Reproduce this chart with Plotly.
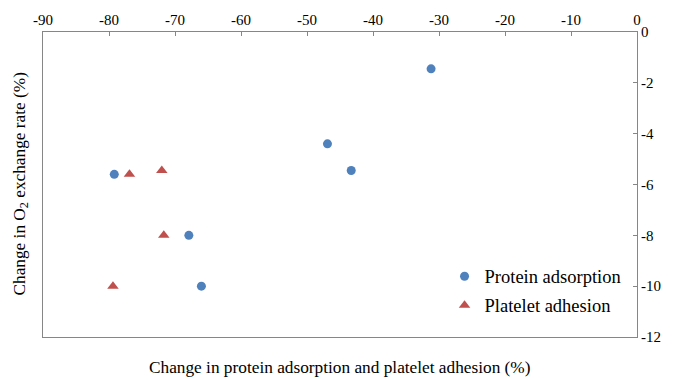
import plotly.graph_objects as go

protein_x = [-31.2, -46.9, -43.3, -79.2, -67.9, -66.0]
protein_y = [-1.45, -4.4, -5.45, -5.6, -8.0, -10.0]
platelet_x = [-76.9, -72.0, -71.7, -79.4]
platelet_y = [-5.6, -5.45, -8.0, -10.0]

x_ticks = [-90, -80, -70, -60, -50, -40, -30, -20, -10, 0]
x_ticklabels = ["-90", "-80", "-70", "-60", "-50", "-40", "-30", "-20", "-10", "0"]
y_ticks = [0, -2, -4, -6, -8, -10, -12]
y_ticklabels = ["0", "-2", "-4", "-6", "-8", "-10", "-12"]

FONT = "Times New Roman, Liberation Serif, DejaVu Serif, serif"

fig = go.Figure()
fig.add_trace(go.Scatter(x=protein_x, y=protein_y, mode="markers", name="Protein adsorption",
                         legendgroup="a",
                         marker=dict(symbol="circle", size=9, color="#4f81bd")))
fig.add_trace(go.Scatter(x=platelet_x, y=platelet_y, mode="markers", name="Platelet adhesion",
                         legendgroup="b",
                         marker=dict(symbol="triangle-up", size=10, color="#c0504d")))

axis_common = dict(showgrid=False, zeroline=False, showline=True, linecolor="#868686",
                   linewidth=1, mirror=True, ticks="inside", ticklen=4, tickcolor="#868686",
                   tickfont=dict(family=FONT, size=15, color="#000000"))

fig.update_layout(
    width=684, height=380,
    margin=dict(l=43, r=47, t=32, b=43),
    paper_bgcolor="white", plot_bgcolor="white",
    font=dict(family=FONT, color="#000000"),
    xaxis=dict(range=[-90, 0], side="top", tickvals=x_ticks, ticktext=x_ticklabels, **axis_common),
    yaxis=dict(range=[-12, 0], side="right", tickvals=y_ticks, ticktext=y_ticklabels, **axis_common),
    legend=dict(x=0.676, y=0.26, xanchor="left", yanchor="top", bgcolor="rgba(0,0,0,0)",
                font=dict(family=FONT, size=18.5), itemwidth=30, tracegroupgap=2,
                traceorder="grouped"),
    showlegend=True,
    annotations=[
        dict(text="Change in protein adsorption and platelet adhesion (%)", xref="paper", yref="paper",
             x=0.5, y=0, yshift=-30, xanchor="center", yanchor="middle", showarrow=False,
             font=dict(family=FONT, size=17.3)),
        dict(text="Change in O<sub>2</sub> exchange rate (%)", xref="paper", yref="paper",
             x=0, y=0.5, xshift=-23, xanchor="center", yanchor="middle", textangle=-90, showarrow=False,
             font=dict(family=FONT, size=17.3)),
    ],
)

fig.write_html("out.html")
